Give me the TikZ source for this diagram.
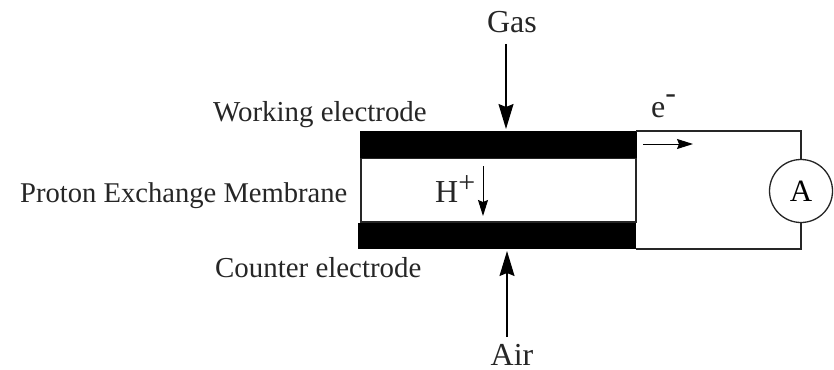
\documentclass[tikz,border=0pt]{standalone}
\usepackage{fontspec}
\setmainfont{Liberation Serif}
\usetikzlibrary{arrows.meta}
\tikzset{
 lbl/.style={inner sep=0pt,font=\fontsize{28.6pt}{32pt}\selectfont,text=black!85},
 lblb/.style={inner sep=0pt,font=\fontsize{28.9pt}{32pt}\selectfont,text=black!85},
 big/.style={inner sep=0pt,font=\fontsize{32pt}{34pt}\selectfont,text=black!85},
 elec/.style={fill=black,draw=none},
 wire/.style={line width=1.3pt,draw=black!85},
 bigar/.style={line width=1.3pt,-{Stealth[length=25pt,width=15pt,inset=3pt]}},
 smallar/.style={line width=1pt,-{Stealth[length=16pt,width=10pt,inset=2pt]}}
}
\begin{document}
\begin{tikzpicture}[x=1pt,y=-1pt]
\useasboundingbox (0,0) rectangle (834,369);
\fill[white] (0,0) rectangle (834,369);
\draw[wire] (361,158) rectangle (636,222);
\fill[elec] (360,131) rectangle (637,158);
\fill[elec] (358,223) rectangle (636,249);
\node[big,anchor=base] (gas) at (512,33) {Gas};
\node[big,anchor=base] (air) at (512,365) {Air};
\node[lblb,anchor=base west] (we) at (213,121) {Working electrode};
\node[lbl,anchor=base west] (pem) at (20,202) {Proton Exchange Membrane};
\node[lblb,anchor=base west] (ce) at (215,277) {Counter electrode};
\node[big,anchor=base west] (hp) at (435,202) {H\raisebox{10pt}{\fontsize{30pt}{32pt}\selectfont +}};
\node[big,anchor=base west] (em) at (651,117) {e\raisebox{14pt}{-}};
\node[circle,draw=black!85,line width=1.3pt,fill=white,minimum size=63pt,inner sep=0pt,font=\fontsize{31pt}{34pt}\selectfont] (amm) at (801,191) {A};
\coordinate (wt) at (636,131);
\coordinate (wb) at (636,249);
\coordinate (gastop) at (506,44);
\coordinate (gasend) at (506,129);
\coordinate (airbot) at (507,337);
\coordinate (airend) at (507,251);
\coordinate (hs) at (483,166);
\coordinate (he) at (483,216);
\coordinate (es) at (643,144);
\coordinate (ee) at (693,144);
\draw[wire] (wt) -| (amm.north);
\draw[wire] (wb) -| (amm.south);
\draw[bigar] (gastop) -- (gasend);
\draw[bigar] (airbot) -- (airend);
\draw[smallar] (hs) -- (he);
\draw[smallar] (es) -- (ee);
\end{tikzpicture}
\end{document}
